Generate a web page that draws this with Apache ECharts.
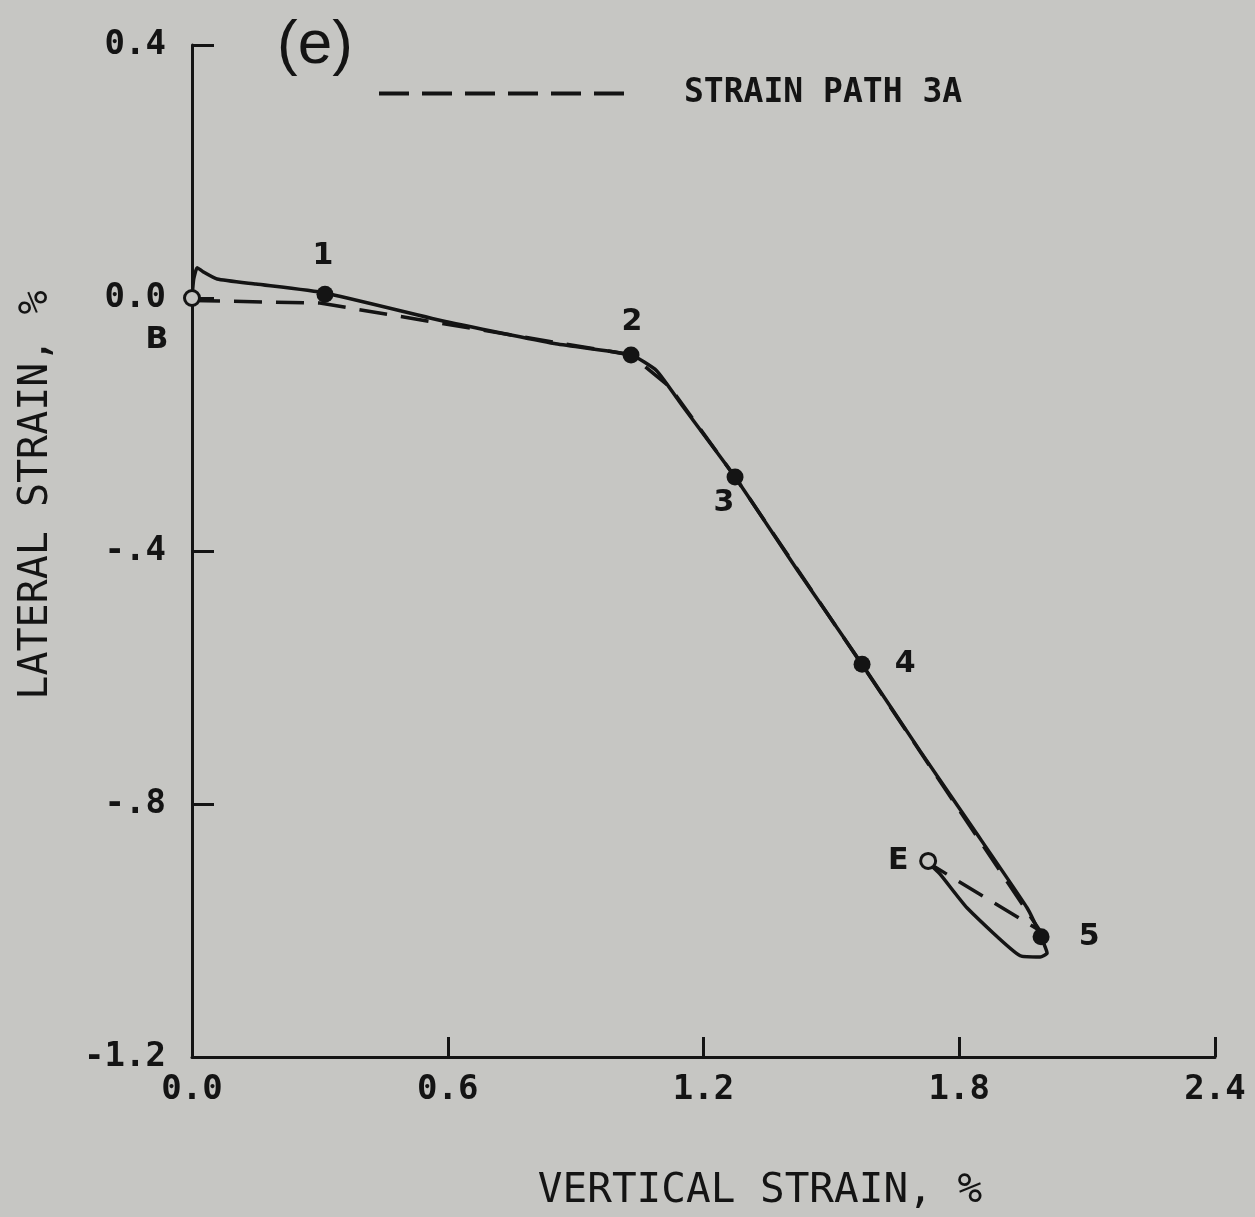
<!DOCTYPE html>
<html>
<head>
<meta charset="utf-8">
<script src="https://cdn.jsdelivr.net/npm/echarts@6/dist/echarts.min.js"></script>
<style>
html,body{margin:0;padding:0;background:#c6c6c3;}
#chart{width:1255px;height:1217px;}
</style>
</head>
<body>
<div id="chart"></div>
<script>
// ---- data ----
const measuredX = [0.0, 0.004, 0.012, 0.025, 0.059, 0.15, 0.312, 0.6, 0.85, 1.03, 1.09, 1.15, 1.274, 1.42, 1.572, 1.708, 1.832, 1.959, 1.989, 2.006, 1.99, 1.943, 1.818, 1.755, 1.727];
const measuredY = [0.0, 0.03, 0.048, 0.042, 0.03, 0.022, 0.008, -0.038, -0.072, -0.09, -0.115, -0.17, -0.283, -0.43, -0.579, -0.716, -0.838, -0.964, -1.006, -1.036, -1.042, -1.04, -0.964, -0.911, -0.893];
const pathX = [0.0, 0.3, 1.03, 1.12, 1.274, 1.572, 1.989, 1.727];
const pathY = [-0.004, -0.008, -0.09, -0.14, -0.283, -0.58, -1.0, -0.893];
const pointNames = ['B', '1', '2', '3', '4', '5', 'E'];
const pointX = [0.0, 0.312, 1.03, 1.274, 1.572, 1.992, 1.727];
const pointY = [0.0, 0.006, -0.09, -0.283, -0.579, -1.01, -0.89];
const pointOpen = [true, false, false, false, false, false, true];
const xTickLabels = ['0.0', '0.6', '1.2', '1.8', '2.4'];
const yTickLabels = ['-1.2', '-.8', '-.4', '0.0', '0.4'];
const xTicks = [0.0, 0.6, 1.2, 1.8, 2.4];
const yTicks = [-1.2, -0.8, -0.4, 0.0, 0.4];
const legendName = 'STRAIN PATH 3A';

// ---- styles ----
const ink = '#141414';
const bg = '#c6c6c3';
const mono = '"DejaVu Sans Mono", "Liberation Mono", monospace';
const labelOffsets = {
  'B': [-35, 42], '1': [-2, -38], '2': [1, -33], '3': [-11, 26],
  '4': [43, 0], '5': [48, 0], 'E': [-30, 0]
};

function zip(xs, ys) { return xs.map((x, i) => [x, ys[i]]); }
function tickLabel(v, ticks, labels) {
  for (let i = 0; i < ticks.length; i++) if (Math.abs(v - ticks[i]) < 1e-6) return labels[i];
  return '';
}

const chart = echarts.init(document.getElementById('chart'), null, {renderer: 'canvas'});
chart.setOption({
  backgroundColor: bg,
  animation: false,
  title: {
    text: '(e)', left: 272, top: 10,
    textStyle: {fontFamily: '"Liberation Sans", Arial, sans-serif', fontSize: 62, fontWeight: 'normal', color: ink}
  },
  legend: {
    data: [legendName], left: 372, top: 72, itemWidth: 258, itemHeight: 16, selectedMode: false,
    itemStyle: {opacity: 0},
    lineStyle: {color: ink, width: 4, type: [30, 13], opacity: 1},
    textStyle: {fontFamily: mono, fontSize: 33, fontWeight: 'bold', color: ink, padding: [0, 0, 0, 42]}
  },
  grid: {left: 192, right: 40, top: 45, bottom: 160, containLabel: false},
  xAxis: {
    type: 'value', min: 0, max: 2.4, interval: 0.6,
    name: 'VERTICAL STRAIN, %', nameLocation: 'middle', nameGap: 114,
    nameTextStyle: {fontFamily: mono, fontSize: 41, color: ink, padding: [0, 0, 0, 113]},
    axisLine: {onZero: false, lineStyle: {color: ink, width: 3}},
    axisTick: {inside: true, length: 20, lineStyle: {color: ink, width: 3}},
    axisLabel: {fontFamily: mono, fontSize: 34, fontWeight: 'bold', color: ink, margin: 16,
      formatter: v => tickLabel(v, xTicks, xTickLabels)},
    splitLine: {show: false}
  },
  yAxis: {
    type: 'value', min: -1.2, max: 0.4, interval: 0.4,
    name: 'LATERAL STRAIN, %', nameLocation: 'middle', nameGap: 135, nameRotate: 90,
    nameTextStyle: {fontFamily: mono, fontSize: 40, color: ink, padding: [0, 0, 0, 112]},
    axisLine: {onZero: false, lineStyle: {color: ink, width: 3}},
    axisTick: {inside: true, length: 22, lineStyle: {color: ink, width: 3}},
    axisLabel: {fontFamily: mono, fontSize: 34, fontWeight: 'bold', color: ink, margin: 26,
      formatter: v => tickLabel(v, yTicks, yTickLabels)},
    splitLine: {show: false}
  },
  series: [
    {
      name: legendName, type: 'line', data: zip(pathX, pathY), showSymbol: false, symbol: 'none',
      itemStyle: {color: ink},
      lineStyle: {color: ink, width: 3.5, type: [28, 14]}, z: 2
    },
    {
      name: 'measured', type: 'line', data: zip(measuredX, measuredY), showSymbol: false, symbol: 'none',
      smooth: 0.15, lineStyle: {color: ink, width: 3.5}, z: 3
    },
    {
      name: 'points', type: 'scatter', z: 5,
      data: pointNames.map((n, i) => ({
        value: [pointX[i], pointY[i]], name: n,
        symbolSize: pointOpen[i] ? 15 : 17,
        itemStyle: pointOpen[i] ? {color: bg, borderColor: ink, borderWidth: 3, opacity: 1} : {color: ink, opacity: 1},
        label: {show: true, formatter: n, position: 'inside', offset: labelOffsets[n],
          fontFamily: '"DejaVu Sans", "Liberation Sans", sans-serif', fontWeight: 'bold', fontSize: 30, color: ink}
      }))
    }
  ]
});
</script>
</body>
</html>
